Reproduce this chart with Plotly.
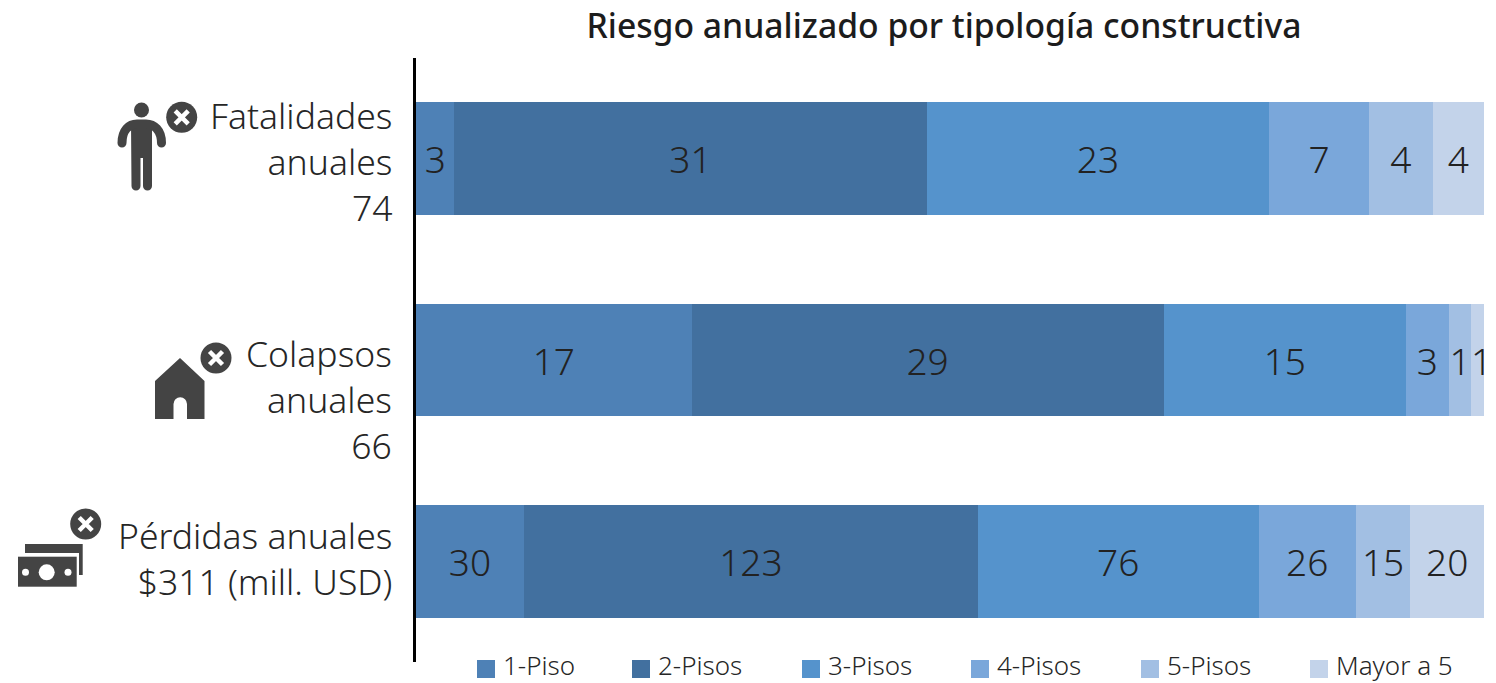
import base64
import plotly.graph_objects as go

W, H = 1496, 683
FONT = "Noto Sans"
INK = "#262626"

categories = ["Fatalidades", "Colapsos", "Perdidas"]
row_labels = ["Fatalidades<br>anuales<br>74", "Colapsos<br>anuales<br>66", "Pérdidas anuales<br>$311 (mill. USD)"]
row_label_shift = [-2, -39, 3]

series_names = ["1-Piso", "2-Pisos", "3-Pisos", "4-Pisos", "5-Pisos", "Mayor a 5"]
series_colors = ["#4e81b6", "#42709f", "#5593cc", "#7aa7da", "#a2bfe3", "#c3d3ea"]
legend_left_px = [477, 632, 802, 971, 1141, 1310]

# Shares of each bar (percent of the full bar)
share_1_piso = [3.6, 25.8, 10.1]
share_2_pisos = [44.2, 44.2, 42.5]
share_3_pisos = [32.1, 22.7, 26.3]
share_4_pisos = [9.3, 4.0, 9.1]
share_5_pisos = [6.0, 2.1, 5.1]
share_mayor_5 = [4.8, 1.2, 6.9]

# Printed labels
label_1_piso = ["3", "17", "30"]
label_2_pisos = ["31", "29", "123"]
label_3_pisos = ["23", "15", "76"]
label_4_pisos = ["7", "3", "26"]
label_5_pisos = ["4", "1", "15"]
label_mayor_5 = ["4", "1", "20"]

shares = [share_1_piso, share_2_pisos, share_3_pisos, share_4_pisos, share_5_pisos, share_mayor_5]
labels = [label_1_piso, label_2_pisos, label_3_pisos, label_4_pisos, label_5_pisos, label_mayor_5]

# One segment is narrower than its digit: its label is placed as an annotation instead of bar text
sliver_row = categories.index("Colapsos")
sliver_series = len(shares) - 1

fig = go.Figure()
LABEL_FONT = dict(family=FONT, size=37, color="#222222", weight=300)
for idx, (name, color, vals, txt) in enumerate(zip(series_names, series_colors, shares, labels)):
    shown = ["" if (idx == sliver_series and r == sliver_row) else t for r, t in enumerate(txt)]
    fig.add_trace(go.Bar(
        y=categories, x=vals, name=name, orientation="h", text=shown,
        textposition="inside", insidetextanchor="middle", constraintext="none",
        textangle=0, cliponaxis=False, textfont=LABEL_FONT,
        marker=dict(color=color, line=dict(width=0)), showlegend=False,
    ))

sliver_start = sum(s[sliver_row] for s in shares[:sliver_series])
fig.add_annotation(text=labels[sliver_series][sliver_row], xref="x", yref="y",
                   x=sliver_start + shares[sliver_series][sliver_row] / 2, y=categories[sliver_row],
                   xshift=4, showarrow=False, font=LABEL_FONT)

for text, cat, shift in zip(row_labels, categories, row_label_shift):
    fig.add_annotation(
        text=text, xref="paper", x=394 / W, yref="y", y=cat, yshift=shift,
        xanchor="right", yanchor="middle", align="right", showarrow=False,
        font=dict(family=FONT, size=35.5, color=INK, weight=300),
    )

# Legend row
for name, color, left in zip(series_names, series_colors, legend_left_px):
    fig.add_shape(type="rect", xref="paper", yref="paper", line_width=0, fillcolor=color,
                  x0=left / W, x1=(left + 18) / W, y0=1 - 678 / H, y1=1 - 660 / H)
    fig.add_annotation(text=name, xref="paper", yref="paper", x=(left + 24) / W, y=1 - 665 / H,
                       xanchor="left", yanchor="middle", showarrow=False,
                       font=dict(family=FONT, size=26, color=INK, weight=300))


def x_badge(cx, cy):
    d = 6.5
    return (f'<circle cx="{cx}" cy="{cy}" r="15.5" fill="#444"/>'
            f'<path d="M{cx-d} {cy-d}L{cx+d} {cy+d}M{cx+d} {cy-d}L{cx-d} {cy+d}" '
            'stroke="#fff" stroke-width="4.5" fill="none"/>')


person = (
    '<circle cx="141.5" cy="110" r="7.5" fill="#444"/>'
    '<path d="M131 122H152V186A4.5 4.5 0 0 1 143 186V158H140.5V186A4.5 4.5 0 0 1 131.5 186Z" fill="#444"/>'
    '<path d="M122 143C122 130 129 124 137 124H146C154 124 161.5 130 161.5 143" '
    'stroke="#444" stroke-width="9" stroke-linecap="round" fill="none"/>'
    + x_badge(181.7, 117.3)
)
house = (
    '<path d="M180 358L204.5 381V419H187V404A6.5 6.5 0 0 0 173.5 404V419H155V381Z" fill="#444"/>'
    + x_badge(216, 358)
)
money = (
    '<path d="M25 544H82.7V575H79V553H25Z" fill="#444"/>'
    '<rect x="18" y="556.7" width="58.7" height="30" fill="#444"/>'
    '<circle cx="46.7" cy="572.3" r="8" fill="#fff"/>'
    '<circle cx="25.5" cy="572.3" r="3.5" fill="#fff"/>'
    '<circle cx="68" cy="572.3" r="3.5" fill="#fff"/>'
    + x_badge(85.7, 524)
)
svg = (f'<svg xmlns="http://www.w3.org/2000/svg" width="{W}" height="{H}" viewBox="0 0 {W} {H}">'
       + person + house + money + '</svg>')
fig.add_layout_image(
    source="data:image/svg+xml;base64," + base64.b64encode(svg.encode()).decode(),
    xref="paper", yref="paper", x=0, y=1, sizex=1, sizey=1,
    xanchor="left", yanchor="top", sizing="stretch", layer="above",
)

fig.update_layout(
    width=W, height=H, margin=dict(l=0, r=0, t=0, b=0, pad=0),
    barmode="stack", bargap=0.44,
    plot_bgcolor="white", paper_bgcolor="white",
    font=dict(family=FONT, color=INK),
    title=dict(text="Riesgo anualizado por tipología constructiva",
               x=944 / W, xref="paper", xanchor="center", y=1 - 26 / H, yref="paper", yanchor="middle",
               font=dict(family=FONT, size=33.7, weight=500, color="#1c1c1c")),
    xaxis=dict(domain=[416 / W, 1484 / W], range=[0, 100], visible=False, fixedrange=True),
    yaxis=dict(domain=[1 - 662 / H, 1 - 58 / H], autorange="reversed", type="category",
               categoryorder="array", categoryarray=categories,
               showticklabels=False, ticks="", showgrid=False, zeroline=False,
               showline=True, linecolor="#000000", linewidth=3, fixedrange=True),
    showlegend=False,
)

fig.write_html("out.html", post_script="document.body.style.margin='0';document.documentElement.style.overflow='hidden';",
               config={"displayModeBar": False})
